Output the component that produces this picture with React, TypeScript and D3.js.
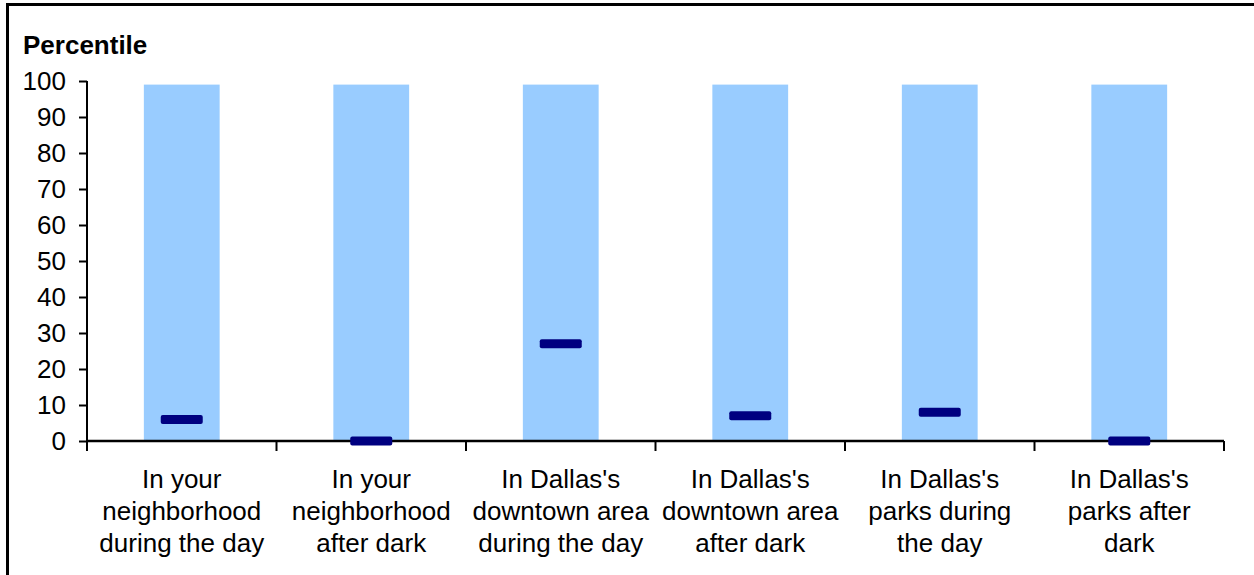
import * as React from 'react';
import * as d3 from 'd3';

const categories = [
  'In your|neighborhood|during the day',
  'In your|neighborhood|after dark',
  "In Dallas's|downtown area|during the day",
  "In Dallas's|downtown area|after dark",
  "In Dallas's|parks during|the day",
  "In Dallas's|parks after|dark"
];
const rangeTop = [99, 99, 99, 99, 99, 99];
const percentile = [6, 0, 27, 7, 8, 0];
const yTicks = [0, 10, 20, 30, 40, 50, 60, 70, 80, 90, 100];

export default class App extends React.Component {
  private ref = React.createRef<SVGSVGElement>();

  public componentDidMount() {
    this.drawChart();
  }

  private drawChart = () => {
    const svgWidth = 1254;
    const svgHeight = 575;
    const margins = { top: 81, left: 87, right: 30, bottom: 134 };
    const width = svgWidth - margins.left - margins.right;
    const height = svgHeight - margins.top - margins.bottom;
    const font = 'Arial, "Liberation Sans", sans-serif';
    const fs = 26;

    const svg = d3.select(this.ref.current).attr('width', svgWidth).attr('height', svgHeight);
    svg.selectAll('*').remove();

    svg.append('rect')
      .attr('x', 7.5).attr('y', 4.5)
      .attr('width', svgWidth + 10).attr('height', svgHeight + 10)
      .attr('fill', '#fff').attr('stroke', '#000').attr('stroke-width', 3);

    const g = svg.append('g').attr('transform', `translate(${margins.left}, ${margins.top})`);

    const x = d3.scaleBand<number>().domain(d3.range(categories.length)).range([0, width]).paddingInner(0.6).paddingOuter(0.3);
    const y = d3.scaleLinear().domain([0, 100]).range([height, 0]);

    // bars
    g.selectAll('.bar')
      .data(rangeTop)
      .enter().append('rect')
      .attr('x', (d, i) => x(i) as number)
      .attr('y', d => y(d))
      .attr('width', x.bandwidth())
      .attr('height', d => y(0) - y(d))
      .attr('fill', '#99CCFF');

    // y axis
    const yAxis = g.append('g')
      .call(d3.axisLeft(y).tickValues(yTicks).tickSize(8).tickPadding(13));
    yAxis.select('.domain').attr('stroke', '#000').attr('stroke-width', 2).attr('d', `M0,${y(0)}V${y(100)}`);
    yAxis.selectAll('.tick line').attr('stroke', '#000').attr('stroke-width', 2);
    yAxis.selectAll('.tick text').attr('font-family', font).attr('font-size', fs).attr('fill', '#000');

    // x axis
    const step = x.step();
    const xg = g.append('g').attr('transform', `translate(0, ${height})`);
    xg.append('line').attr('x1', 0).attr('x2', width).attr('stroke', '#000').attr('stroke-width', 2.5);
    xg.selectAll('.xt')
      .data(d3.range(categories.length + 1))
      .enter().append('line')
      .attr('x1', i => i * step).attr('x2', i => i * step)
      .attr('y1', 0).attr('y2', 10)
      .attr('stroke', '#000').attr('stroke-width', 2);
    const labels = xg.selectAll('.xl')
      .data(categories)
      .enter().append('text')
      .attr('text-anchor', 'middle')
      .attr('font-family', font).attr('font-size', fs).attr('fill', '#000')
      .attr('transform', (d, i) => `translate(${(x(i) as number) + x.bandwidth() / 2}, 47)`);
    labels.selectAll('tspan')
      .data(d => d.split('|'))
      .enter().append('tspan')
      .attr('x', 0)
      .attr('y', (d, i) => i * 32)
      .text(d => d);

    // markers
    g.selectAll('.mk')
      .data(percentile)
      .enter().append('rect')
      .attr('x', (d, i) => (x(i) as number) + x.bandwidth() / 2 - 21)
      .attr('y', d => y(d) - 4.5)
      .attr('width', 42).attr('height', 9).attr('rx', 2)
      .attr('fill', '#000080');

    svg.append('text')
      .attr('x', 23).attr('y', 54)
      .attr('font-family', font).attr('font-size', fs).attr('font-weight', 'bold')
      .text('Percentile');
  };

  public render() {
    return (
      <div style={{ position: 'absolute', left: 0, top: 0 }}>
        <svg ref={this.ref} style={{ display: 'block' }} />
      </div>
    );
  }
}
